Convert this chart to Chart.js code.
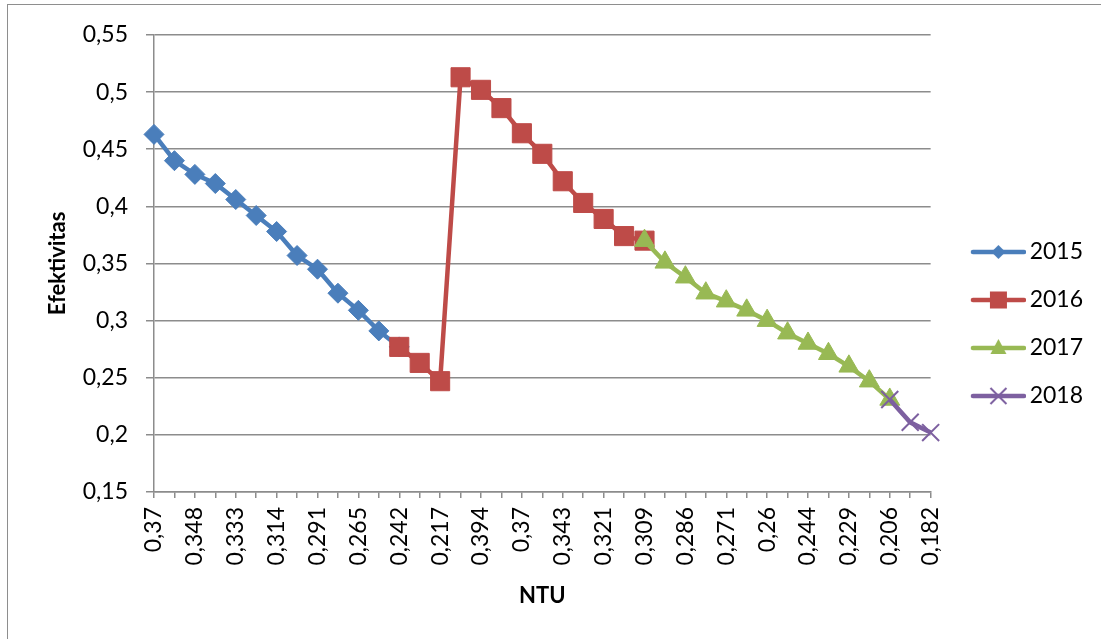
<!DOCTYPE html>
<html>
<head>
<meta charset="utf-8">
<script src="https://cdn.jsdelivr.net/npm/chart.js@4.4.1/dist/chart.umd.min.js"></script>
<style>
  html, body { margin: 0; padding: 0; background: #fff; overflow: hidden; }
  #frame { position: absolute; left: 7px; top: 4px; width: 1300px; height: 900px;
           border-left: 1px solid #8e8e8e; border-top: 1px solid #8e8e8e; }
  #chart { position: absolute; left: 0; top: 0; }
</style>
</head>
<body>
<div id="frame"></div>
<canvas id="chart" width="1101" height="639"></canvas>
<script>
// visible NTU tick labels (every second category is labelled)
const ntuTicks = ['0,37', '0,348', '0,333', '0,314', '0,291', '0,265', '0,242', '0,217', '0,394', '0,37',
                  '0,343', '0,321', '0,309', '0,286', '0,271', '0,26', '0,244', '0,229', '0,206', '0,182'];

// efektivitas per year, with the category index where each year starts
const eff2015 = [0.463, 0.440, 0.428, 0.420, 0.406, 0.392, 0.378, 0.357, 0.345, 0.324, 0.309, 0.291, 0.277];
const eff2016 = [0.277, 0.263, 0.247, 0.513, 0.502, 0.486, 0.464, 0.446, 0.422, 0.403, 0.389, 0.374, 0.370];
const eff2017 = [0.370, 0.351, 0.338, 0.324, 0.317, 0.309, 0.300, 0.289, 0.280, 0.271, 0.260, 0.247, 0.231];
const eff2018 = [0.231, 0.211, 0.202];
const startIndex = [0, 12, 24, 36];

const years = ['2015', '2016', '2017', '2018'];
const colors = ['#4a7ebb', '#be4b48', '#98b954', '#7d60a0'];

// 39 categories, unlabeled ones in between
const categories = [];
ntuTicks.forEach((t, i) => {
    categories.push(t);
    if (i < ntuTicks.length - 1) categories.push('');
});

function placeAt(start, values) {
    const out = new Array(categories.length).fill(null);
    values.forEach((v, i) => out[start + i] = v);
    return out;
}

function legendIcon(color, style) {
    const c = document.createElement('canvas');
    c.width = 78; c.height = 30;
    const g = c.getContext('2d');
    g.strokeStyle = color; g.fillStyle = color;
    g.lineWidth = 4.5; g.lineCap = 'round';
    g.beginPath(); g.moveTo(25, 15); g.lineTo(76, 15); g.stroke();
    const x = 50.5, y = 15;
    g.beginPath();
    if (style === 'rectRot') {
        g.moveTo(x, y - 7); g.lineTo(x + 7, y); g.lineTo(x, y + 7); g.lineTo(x - 7, y); g.closePath(); g.fill();
    } else if (style === 'rect') {
        g.fillRect(x - 8.5, y - 8.5, 17, 17);
    } else if (style === 'triangle') {
        g.moveTo(x, y - 9); g.lineTo(x + 8, y + 6); g.lineTo(x - 8, y + 6); g.closePath(); g.fill();
    } else {
        g.lineWidth = 2; g.lineCap = 'butt';
        g.moveTo(x - 8, y - 8); g.lineTo(x + 8, y + 8);
        g.moveTo(x + 8, y - 8); g.lineTo(x - 8, y + 8); g.stroke();
    }
    return c;
}

const styles = ['rectRot', 'rect', 'triangle', 'crossRot'];
const radii = [10, 13.5, 11.5, 12];
const icons = styles.map((s, i) => legendIcon(colors[i], s));
const series = [eff2015, eff2016, eff2017, eff2018];

Chart.defaults.font.family = 'Lato';
Chart.defaults.font.size = 23;
Chart.defaults.color = '#000';

const gridColor = '#8c8c8c';

new Chart(document.getElementById('chart').getContext('2d'), {
    type: 'line',
    data: {
        labels: categories,
        datasets: series.map((vals, i) => ({
            label: years[i],
            data: placeAt(startIndex[i], vals),
            borderColor: colors[i],
            backgroundColor: colors[i],
            pointBackgroundColor: colors[i],
            pointBorderColor: colors[i],
            pointBorderWidth: styles[i] === 'crossRot' ? 2 : 1,
            pointStyle: styles[i],
            pointRadius: radii[i],
            borderWidth: 4.5,
            tension: 0,
            spanGaps: false,
            clip: false,
            order: 3 - i
        }))
    },
    options: {
        responsive: false,
        animation: false,
        layout: { padding: { left: 0, top: 35, right: 8, bottom: 26 } },
        plugins: {
            tooltip: { enabled: false },
            legend: {
                position: 'right',
                align: 'center',
                labels: {
                    usePointStyle: true,
                    pointStyleWidth: 62.5,
                    padding: 25,
                    font: { size: 23 },
                    generateLabels: chart => chart.data.datasets.map((ds, i) => ({
                        text: ds.label,
                        pointStyle: icons[i],
                        fillStyle: colors[i],
                        strokeStyle: colors[i],
                        lineWidth: 0,
                        hidden: false,
                        datasetIndex: i,
                        fontColor: '#000'
                    }))
                }
            }
        },
        scales: {
            x: {
                afterFit: scale => { scale.height = 121; },
                grid: { drawOnChartArea: false, drawTicks: true, tickLength: 6, color: gridColor, lineWidth: 1.5 },
                border: { color: gridColor, width: 1.5 },
                ticks: { autoSkip: false, minRotation: 90, maxRotation: 90, padding: 9, font: { size: 23 } },
                title: { display: true, text: 'NTU', font: { size: 22, weight: 'bold' }, padding: { top: 0, bottom: 4 } }
            },
            y: {
                min: 0.15,
                max: 0.55,
                afterFit: scale => { scale.width = 154; },
                grid: { color: gridColor, lineWidth: 1.5, tickLength: 8 },
                border: { color: gridColor, width: 1.5 },
                ticks: {
                    stepSize: 0.05,
                    padding: 18,
                    callback: v => String(Number(v.toFixed(2))).replace('.', ',')
                },
                title: { display: true, text: 'Efektivitas', font: { size: 22, weight: 'bold' }, padding: { top: 45, bottom: 0 } }
            }
        }
    }
});
</script>
</body>
</html>
